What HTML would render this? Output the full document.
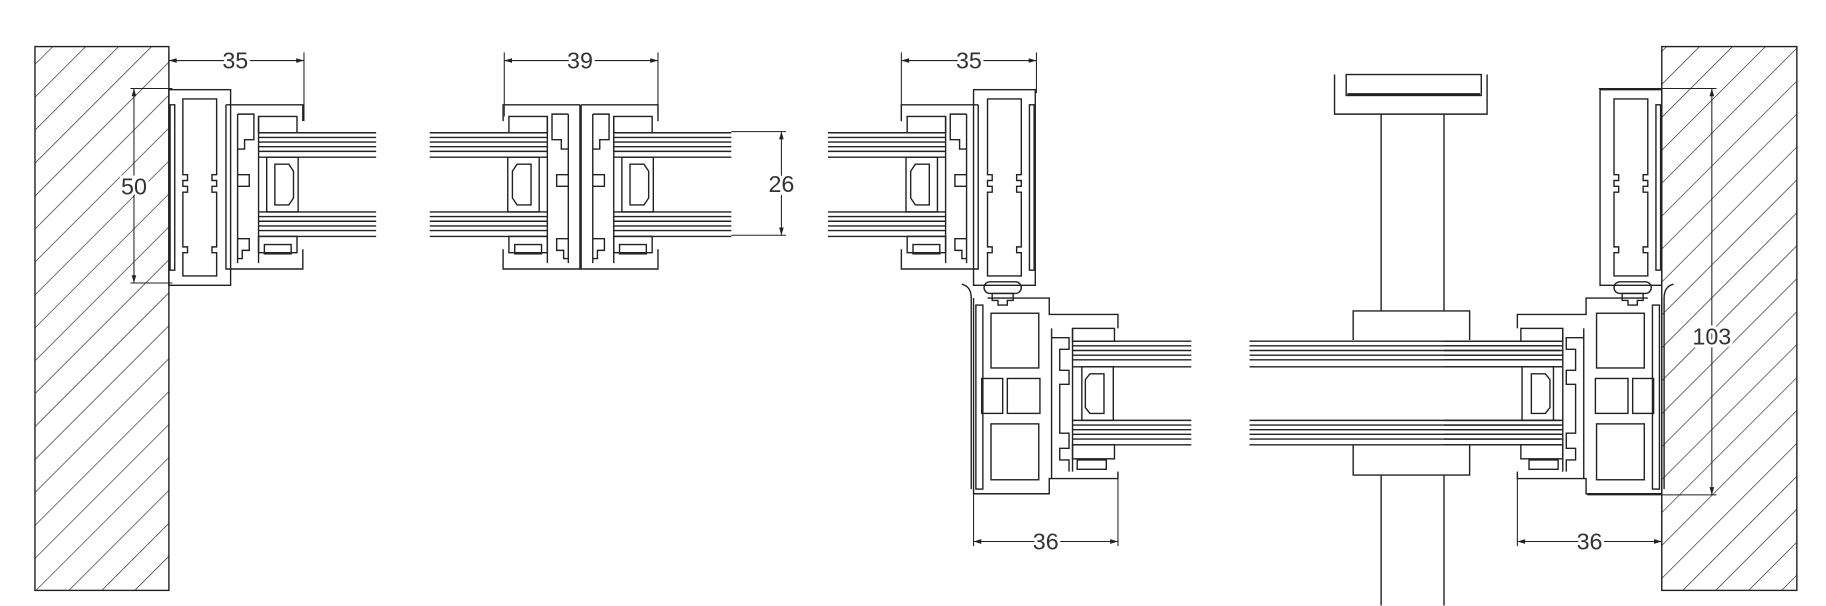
<!DOCTYPE html>
<html><head><meta charset="utf-8"><style>
html,body{margin:0;padding:0;background:#fff;}
svg{display:block;}
text{font-family:"Liberation Sans",sans-serif;font-size:20px;fill:#333;text-anchor:middle;dominant-baseline:central;paint-order:stroke;stroke:#fff;stroke-width:5px;}
</style></head><body>
<svg width="1826" height="606" viewBox="0 0 1568 520.4" xmlns="http://www.w3.org/2000/svg">
<defs>
<pattern id="h" width="20" height="20" patternUnits="userSpaceOnUse" patternTransform="rotate(45)">
<line x1="0" y1="0" x2="0" y2="20" stroke="#222" stroke-width="1.1"/>
</pattern>
<marker id="a" viewBox="0 0 10 6" refX="10" refY="3" markerWidth="7" markerHeight="4" orient="auto-start-reverse" markerUnits="userSpaceOnUse"><path d="M0,0L10,3L0,6z" fill="#222"/></marker>
<g id="frameA" fill="none" stroke="#222" stroke-width="1.2">
<rect x="145" y="77" width="53" height="168"/>
<rect x="146" y="90" width="4" height="142"/>
<path d="M157,85H186V150h-4v5h4v5h-4v5h4V212h-4v5h4V237H157V217h4v-5h-4V165h4v-5h-4v-5h4v-5h-4Z"/>
</g>
<g id="sashA" fill="none" stroke="#222" stroke-width="1.2">
<path d="M194,90H260V104M194,90V231H260V214"/>
<path d="M204,98H218V120H210V128H204M204,150H214V160H204M204,205H214V215H208V222H204M204,98V226"/>
<rect x="222" y="100" width="33" height="14"/>
<rect x="222" y="203" width="33" height="14"/>
<rect x="227" y="210" width="23" height="8"/>
<line x1="222" y1="100" x2="222" y2="226"/>
<path d="M222,114H323M222,118H323M222,122H323M222,126H323M222,130H323M222,135H323M222,182H323M222,186H323M222,190H323M222,194H323M222,198H323M222,203H323"/>
<rect x="229" y="135" width="27" height="47"/>
<path d="M236,141H248L252,147V170L248,176H236Z"/>
</g>
<g id="frameB" fill="none" stroke="#222" stroke-width="1.2">
<path d="M836,256V424H901V411H960V405M848,256H901V270H960V282"/>
<rect x="838" y="262" width="6" height="158"/>
<rect x="851" y="269" width="41" height="47"/>
<rect x="843" y="325" width="18" height="30"/>
<rect x="865" y="325" width="28" height="30"/>
<rect x="851" y="364" width="41" height="48"/>
<path d="M903,282V411M903,290H918V300H910V318H918V330H910V372H918V385H910V395H918V405"/>
<rect x="921" y="282" width="36" height="11"/>
<path d="M921,293H1023M921,297H1023M921,301H1023M921,305H1023M921,309H1023M921,315H1023M921,361H1023M921,365H1023M921,369H1023M921,373H1023M921,377H1023M921,382H1023"/>
<rect x="929" y="315" width="27" height="46"/>
<path d="M936,321H948V355H936L932,350V326Z"/>
<rect x="921" y="382" width="36" height="12"/>
<rect x="925" y="395" width="25" height="8"/>
<line x1="921" y1="282" x2="921" y2="405"/>
<rect x="845" y="242" width="32" height="10" rx="5"/>
<path d="M852,252H870V258H865V262H857V258H852Z"/>
<path d="M826,244Q834,246 834,256V420"/>
</g>
</defs>

<rect x="30" y="40" width="115" height="467" fill="url(#h)" stroke="#222" stroke-width="1.2"/>
<rect x="1427" y="40" width="116" height="467" fill="url(#h)" stroke="#222" stroke-width="1.2"/>

<use href="#frameA"/>
<use href="#sashA"/>
<use href="#sashA" transform="translate(692,0) scale(-1,1)"/>
<use href="#sashA" transform="translate(305,0)"/>
<use href="#frameA" transform="translate(1034,0) scale(-1,1)"/>
<use href="#sashA" transform="translate(1034,0) scale(-1,1)"/>
<use href="#frameB"/>
<use href="#frameA" transform="translate(1572,0) scale(-1,1)"/>
<use href="#frameB" transform="translate(2263,0) scale(-1,1)"/>

<g fill="none" stroke="#222" stroke-width="1.2">
<path d="M1073,293H1340M1073,297H1340M1073,301H1340M1073,305H1340M1073,309H1340M1073,315H1340M1073,361H1340M1073,365H1340M1073,369H1340M1073,373H1340M1073,377H1340M1073,382H1340"/>
<path d="M1186,98V267M1240,98V267M1186,408V520M1240,408V520"/>
<path d="M1146,64V98H1277V64"/>
<rect x="1156" y="64" width="116" height="18"/>
<line x1="1157" y1="81" x2="1271" y2="81" stroke-width="2"/>
<path d="M1162,292V267H1262V292M1162,382V408H1262V382"/>

<g stroke-width="0.9">
<path d="M145,45V60M261,45V104"/>
<line x1="145" y1="52" x2="261" y2="52" marker-start="url(#a)" marker-end="url(#a)"/>
<path d="M112,76H148M112,243H148"/>
<line x1="115" y1="76" x2="115" y2="243" marker-start="url(#a)" marker-end="url(#a)"/>
<path d="M433,45V100M565,45V100"/>
<line x1="433" y1="52" x2="565" y2="52" marker-start="url(#a)" marker-end="url(#a)"/>
<path d="M628,113H675M628,202H675"/>
<line x1="671" y1="113" x2="671" y2="202" marker-start="url(#a)" marker-end="url(#a)"/>
<path d="M774,45V104M890,45V80"/>
<line x1="774" y1="52" x2="890" y2="52" marker-start="url(#a)" marker-end="url(#a)"/>
<path d="M836,424V469M960,405V469"/>
<line x1="836" y1="465" x2="960" y2="465" marker-start="url(#a)" marker-end="url(#a)"/>
<path d="M1303,405V469M1427,430V469"/>
<line x1="1303" y1="465" x2="1427" y2="465" marker-start="url(#a)" marker-end="url(#a)"/>
<path d="M1373,76H1474M1363,425H1474"/>
<line x1="1470" y1="76" x2="1470" y2="425" marker-start="url(#a)" marker-end="url(#a)"/>
</g>
</g>
<text x="202" y="52">35</text>
<text x="115" y="160">50</text>
<text x="498" y="52">39</text>
<text x="671" y="158">26</text>
<text x="832" y="52">35</text>
<text x="898" y="465">36</text>
<text x="1365" y="465">36</text>
<text x="1470" y="289">103</text>
</svg>
</body></html>
